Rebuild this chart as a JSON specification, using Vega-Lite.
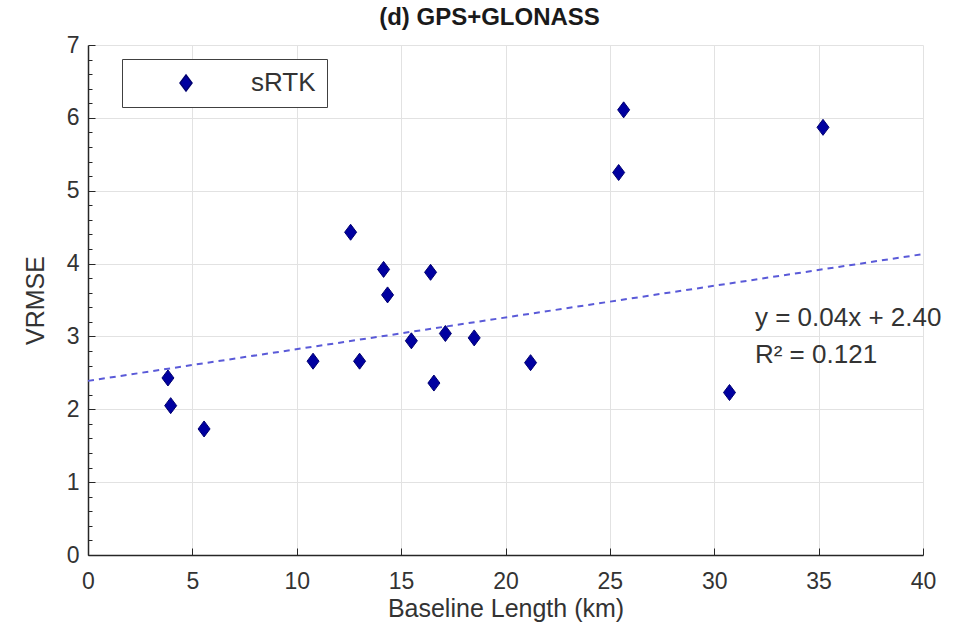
{
  "$schema": "https://vega.github.io/schema/vega-lite/v6.json",
  "width": 835,
  "height": 510,
  "autosize": {"type": "none"},
  "padding": {"left": 88, "top": 45, "right": 50, "bottom": 88},
  "background": "white",
  "title": {"text": "(d) GPS+GLONASS", "fontSize": 24, "fontWeight": "bold", "font": "Liberation Sans", "color": "#1a1a1a", "anchor": "middle", "offset": 4, "dx": -16},
  "config": {
    "view": {"stroke": null},
    "font": "Liberation Sans",
    "axis": {
      "domainColor": "#262626", "domainWidth": 1.5,
      "tickColor": "#262626", "labelColor": "#333333", "titleColor": "#333333",
      "labelFont": "Liberation Sans", "titleFont": "Liberation Sans",
      "labelFontSize": 23, "titleFontSize": 25, "titleFontWeight": "normal",
      "gridColor": "#e2e2e2", "gridWidth": 1, "labelOverlap": false, "labelFlush": false
    }
  },
  "datasets": {
    "pts": [
      {"baseline": 3.83, "vrmse": 2.43, "series": "sRTK"},
      {"baseline": 3.96, "vrmse": 2.05, "series": "sRTK"},
      {"baseline": 5.56, "vrmse": 1.73, "series": "sRTK"},
      {"baseline": 10.78, "vrmse": 2.66, "series": "sRTK"},
      {"baseline": 12.58, "vrmse": 4.43, "series": "sRTK"},
      {"baseline": 13.01, "vrmse": 2.66, "series": "sRTK"},
      {"baseline": 14.16, "vrmse": 3.92, "series": "sRTK"},
      {"baseline": 14.35, "vrmse": 3.57, "series": "sRTK"},
      {"baseline": 15.49, "vrmse": 2.94, "series": "sRTK"},
      {"baseline": 16.41, "vrmse": 3.88, "series": "sRTK"},
      {"baseline": 16.57, "vrmse": 2.36, "series": "sRTK"},
      {"baseline": 17.12, "vrmse": 3.04, "series": "sRTK"},
      {"baseline": 18.5, "vrmse": 2.98, "series": "sRTK"},
      {"baseline": 21.2, "vrmse": 2.64, "series": "sRTK"},
      {"baseline": 25.42, "vrmse": 5.25, "series": "sRTK"},
      {"baseline": 25.66, "vrmse": 6.11, "series": "sRTK"},
      {"baseline": 30.73, "vrmse": 2.23, "series": "sRTK"},
      {"baseline": 35.21, "vrmse": 5.87, "series": "sRTK"}
    ],
    "fit": [
      {"baseline": 0, "vrmse": 2.39},
      {"baseline": 40, "vrmse": 4.13}
    ],
    "labels": [
      {"baseline": 31.95, "vrmse": 3.25, "text": "y = 0.04x + 2.40"},
      {"baseline": 31.95, "vrmse": 2.74, "text": "R² = 0.121"}
    ]
  },
  "layer": [
    {
      "data": {"name": "fit"},
      "mark": {"type": "line", "color": "#5a5ad8", "strokeWidth": 2, "strokeDash": [6, 5]},
      "encoding": {
        "x": {"field": "baseline", "type": "quantitative",
              "scale": {"domain": [0, 40], "nice": false},
              "axis": {"title": "Baseline Length (km)", "values": [0,5,10,15,20,25,30,35,40], "tickCount": 20, "tickSize": -7, "labelPadding": 22, "titlePadding": 3, "grid": true}},
        "y": {"field": "vrmse", "type": "quantitative",
              "scale": {"domain": [0, 7], "nice": false},
              "axis": {"title": "VRMSE", "tickCount": 100,
                       "values": [0,0.2,0.4,0.6,0.8,1,1.2,1.4,1.6,1.8,2,2.2,2.4,2.6,2.8,3,3.2,3.4,3.6,3.8,4,4.2,4.4,4.6,4.8,5,5.2,5.4,5.6,5.8,6,6.2,6.4,6.6,6.8,7],
                       "labelExpr": "abs(datum.value - round(datum.value)) < 0.01 ? toString(round(datum.value)) : ''",
                       "tickSize": {"condition": {"test": "abs(datum.value - round(datum.value)) < 0.01", "value": -7}, "value": -4},
                       "gridOpacity": {"condition": {"test": "abs(datum.value - round(datum.value)) < 0.01", "value": 1}, "value": 0},
                       "grid": true, "labelPadding": 16, "titlePadding": 18}}
      }
    },
    {
      "data": {"name": "pts"},
      "mark": {"type": "point", "filled": true, "shape": "M0,-1L0.75,0L0,1L-0.75,0Z", "size": 256, "opacity": 1, "strokeWidth": 1, "stroke": "#000070"},
      "encoding": {
        "x": {"field": "baseline", "type": "quantitative"},
        "y": {"field": "vrmse", "type": "quantitative"},
        "color": {"field": "series", "type": "nominal",
                  "scale": {"domain": ["sRTK"], "range": ["#0000a0"]},
                  "legend": {"title": null, "orient": "none", "legendX": 34, "legendY": 14,
                             "padding": 11, "symbolOffset": 40, "labelOffset": 52,
                             "symbolType": "M0,-1L0.75,0L0,1L-0.75,0Z", "symbolSize": 256,
                             "symbolStrokeColor": "#000070",
                             "labelFontSize": 26, "labelColor": "#333333", "labelFont": "Liberation Sans",
                             "strokeColor": "#404040", "fillColor": "white"}}
      }
    },
    {
      "data": {"name": "labels"},
      "mark": {"type": "text", "align": "left", "baseline": "middle", "fontSize": 26, "color": "#333333", "font": "Liberation Sans"},
      "encoding": {
        "x": {"field": "baseline", "type": "quantitative"},
        "y": {"field": "vrmse", "type": "quantitative"},
        "text": {"field": "text"}
      }
    }
  ]
}
